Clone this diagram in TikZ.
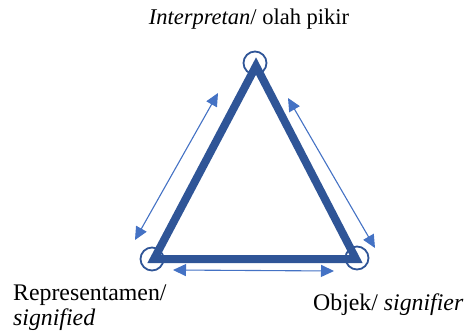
\documentclass[tikz,border=0pt]{standalone}
\usepackage{fontspec}
\setmainfont{Liberation Serif}
\usetikzlibrary{arrows.meta}
\definecolor{tri}{HTML}{2F5597}
\definecolor{arr}{HTML}{4472C4}
\tikzset{
  triline/.style={draw=tri, line width=8pt, line join=miter},
  vcirc/.style={draw=tri, line width=1.8pt, circle, minimum size=23pt, inner sep=0pt},
  darrow/.style={draw=arr, line width=1.1pt, {Triangle[length=13pt,width=12pt]}-{Triangle[length=13pt,width=12pt]}},
  lbl/.style={inner sep=0pt, font=\fontsize{23.8}{26}\selectfont},
  toplbl/.style={inner sep=0pt, font=\fontsize{22.5}{26}\selectfont}
}
\begin{document}
\begin{tikzpicture}[x=1pt,y=-1pt]
\useasboundingbox (0,0) rectangle (470,334);
\coordinate (A) at (256,66);
\coordinate (B) at (154,259);
\coordinate (C) at (356,259);
\draw[triline] (A) -- (B) -- (C) -- cycle;
\node[vcirc] (cA) at (255,63) {};
\node[vcirc] (cB) at (152,259) {};
\node[vcirc] (cC) at (357,258) {};
\coordinate (l1) at (218,93);
\coordinate (l2) at (135,240);
\coordinate (r1) at (288,98);
\coordinate (r2) at (375,248);
\coordinate (b1) at (173,270);
\coordinate (b2) at (334,271);
\draw[darrow] (l1) -- (l2);
\draw[darrow] (r1) -- (r2);
\draw[darrow] (b1) -- (b2);
\node[toplbl, anchor=base] (top) at (249,25) {\textit{Interpretan}/ olah pikir};
\node[lbl, anchor=base west] (left1) at (13,300) {Representamen/};
\node[lbl, anchor=base west] (left2) at (13,325) {\textit{signified}};
\node[lbl, anchor=base west] (right) at (313,310) {Objek/ \textit{signifier}};
\end{tikzpicture}
\end{document}
